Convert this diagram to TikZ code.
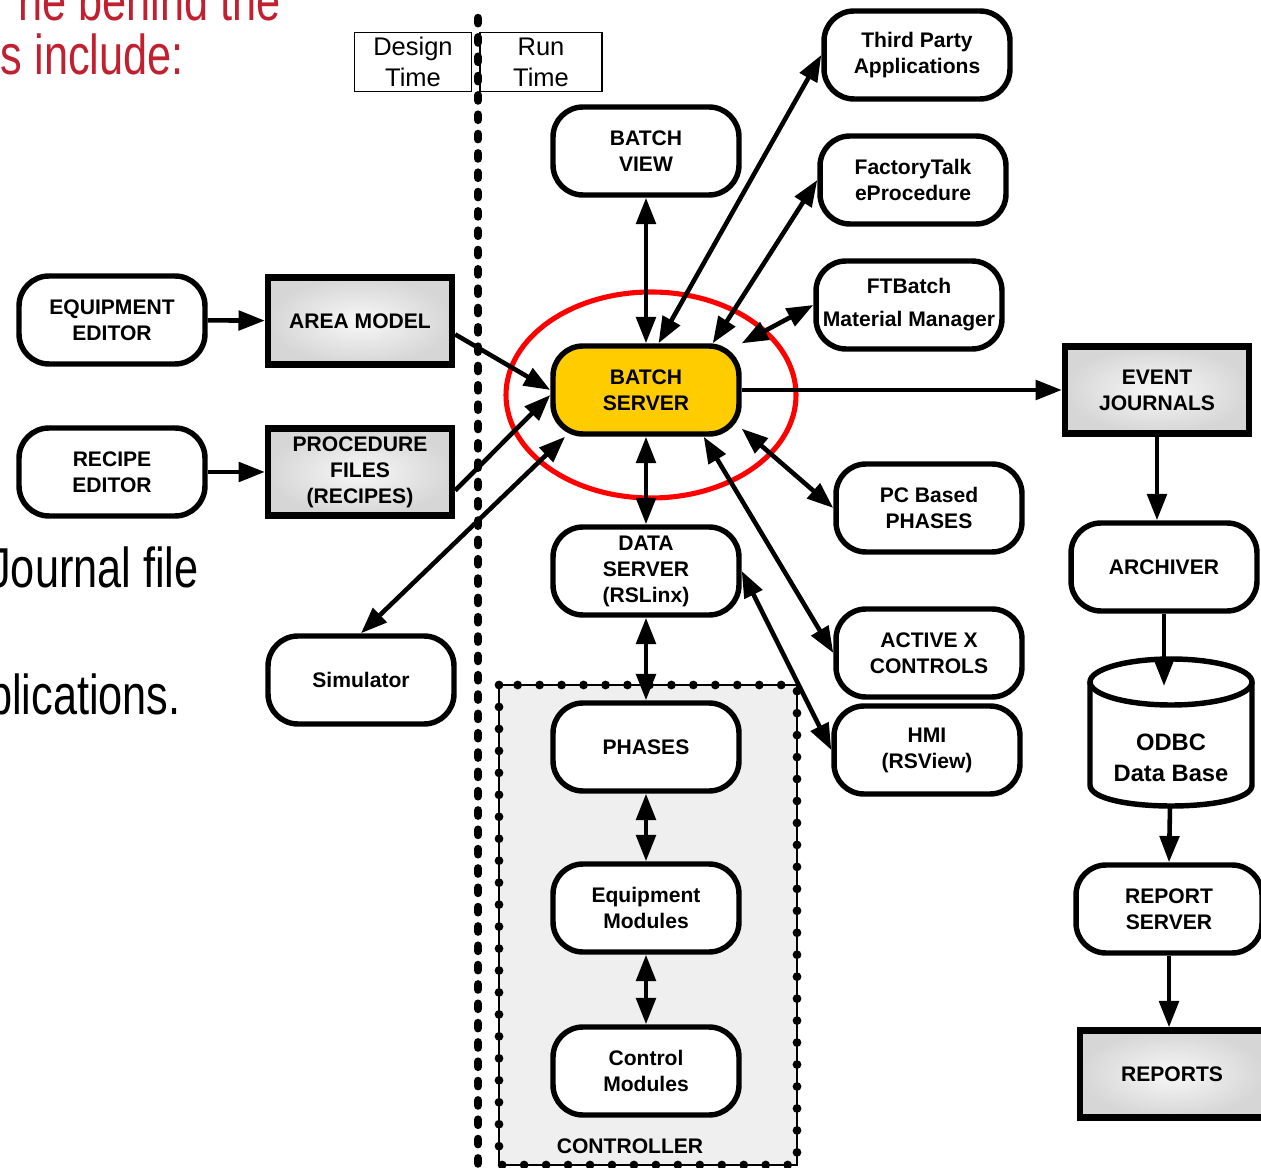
\documentclass[tikz,border=0pt]{standalone}
\usepackage{fontspec}
\setmainfont{Liberation Sans}
\newfontfamily\condfont[FakeStretch=0.77]{Liberation Sans}
\usetikzlibrary{arrows.meta}
\definecolor{gold}{RGB}{255,204,0}
\definecolor{titlered}{RGB}{192,32,48}
\definecolor{ctrlgray}{RGB}{239,239,239}
\newcommand{\boxfont}{\fontsize{12}{14.8}\selectfont\bfseries}

\begin{document}
\begin{tikzpicture}[x=0.02cm, y=-0.02cm,
    box/.style={draw, line width=3.1pt, rounded corners=0.6cm, fill=white,
      minimum width=3.72cm, minimum height=1.76cm, align=center, font=\boxfont},
    store/.style={draw, line width=3.6pt, inner color=gray!6, outer color=gray!32,
      minimum width=3.68cm, minimum height=1.74cm, align=center, font=\boxfont},
    timebox/.style={draw, line width=0.8pt, align=center, inner sep=0pt,
      minimum height=1.18cm, font=\fontsize{14.5}{17.6}\selectfont},
    link/.style={line width=2.6pt, -{Triangle[length=15pt,width=11pt]}},
    dlink/.style={line width=2.6pt, {Triangle[length=15pt,width=11pt]}-{Triangle[length=15pt,width=11pt]}},
    bigtext/.style={font=\condfont\fontsize{32}{36}\selectfont, inner sep=0pt, anchor=base east}
  ]
  \useasboundingbox (0,0) rectangle (1261,1168);

  \node[bigtext, text=titlered] (line1) at (281,21) {ne behind the};
  \node[bigtext, text=titlered] (line2) at (184,75) {s include:};
  \node[bigtext] (line3) at (199,588) {Journal file};
  \node[bigtext] (line4) at (181,715) {plications.};

  % controller
  \draw[fill=ctrlgray, line width=0.8pt] (499,685) rectangle (797,1165);
  \draw[line width=5pt, line cap=round, dash pattern=on 0pt off 12.5pt] (499,685) rectangle (797,1165);
  \node[font=\boxfont] (ctrl) at (630,1146) {CONTROLLER};

  \draw[red, line width=2.9pt] (651,395) ellipse [x radius=145, y radius=103];

  \node[timebox, minimum width=2.34cm] (design) at (413,62) {Design\\Time};
  \node[timebox, minimum width=2.44cm] (run) at (541,62) {Run\\Time};

  \node[box] (bview) at (646,151) {BATCH\\VIEW};
  \node[box] (third) at (917,55) {Third Party\\Applications};
  \node[box] (ftalk) at (913,180) {FactoryTalk\\eProcedure};
  \node[box] (ftbatch) at (909,305) {FTBatch\\[4pt]Material Manager};
  \node[box] (eqedit) at (112,320) {EQUIPMENT\\EDITOR};
  \node[store] (area) at (360,321) {AREA MODEL};
  \node[box] (recedit) at (112,472) {RECIPE\\EDITOR};
  \node[store] (proc) at (360,472) {PROCEDURE\\FILES\\(RECIPES)};
  \node[box, fill=gold] (bserver) at (646,390) {BATCH\\SERVER};
  \node[store] (evjour) at (1157,390) {EVENT\\JOURNALS};
  \node[box] (dserver) at (646,571) {DATA\\SERVER\\(RSLinx)};
  \node[box] (pcphase) at (929,508) {PC Based\\PHASES};
  \node[box] (archiver) at (1164,567) {ARCHIVER};
  \node[box] (sim) at (361,680) {Simulator};
  \node[box] (activex) at (929,653) {ACTIVE X\\CONTROLS};
  \node[box] (hmi) at (927,750) {HMI\\(RSView)};
  \node[box] (phases) at (646,747) {PHASES};
  \node[box] (eqmod) at (646,908) {Equipment\\Modules};
  \node[box] (ctrlmod) at (646,1071) {Control\\Modules};
  \node[box] (repserver) at (1169,909) {REPORT\\SERVER};
  \node[store] (reports) at (1172,1074) {REPORTS};

  % data base
  \draw[line width=3.1pt, fill=white] (1090,682) -- (1090,785)
    .. controls (1090,813) and (1252,813) .. (1252,785) -- (1252,682);
  \draw[line width=3.1pt, fill=white] (1171,682) ellipse [x radius=81, y radius=23];
  \node[font=\fontsize{13.5}{18}\selectfont\bfseries, align=center] (odbc) at (1171,758) {ODBC\\Data Base};
  \coordinate (odbctop) at (1164,686);
  \coordinate (odbcbot) at (1170,807);

  \draw[link] (eqedit) -- (area);
  \draw[link] (recedit) -- (proc);
  \draw[link] (area.-8) -- (bserver.west);
  \draw[link] (proc.-11) -- (bserver.183);
  \draw[dlink] (sim.north) -- (bserver.210);
  \draw[dlink] (bview) -- (bserver);
  \draw[dlink] (third.west) -- (bserver.75);
  \draw[dlink] (ftalk.west) -- (bserver.35);
  \draw[dlink] (ftbatch.west) -- (bserver.26);
  \draw[link] (bserver) -- (evjour);
  \draw[dlink] (bserver.-22) -- (pcphase.west);
  \draw[dlink] (bserver.-39) -- (activex.west);
  \draw[dlink] (dserver.east) -- (hmi.west);
  \draw[dlink] (bserver) -- (dserver);
  \draw[dlink] (dserver) -- (phases);
  \draw[dlink] (phases) -- (eqmod);
  \draw[dlink] (eqmod) -- (ctrlmod);
  \draw[link] (evjour.south) -- (evjour.south |- archiver.north);
  \draw[link] (archiver.south) -- (odbctop);
  \draw[link] (odbcbot) -- (repserver.north);
  \draw[link] (repserver.south) -- (repserver.south |- reports.north);

  \draw[line width=4.8pt, line cap=round, dash pattern=on 3pt off 8pt] (478,18) -- (478,1168);
\end{tikzpicture}
\end{document}
